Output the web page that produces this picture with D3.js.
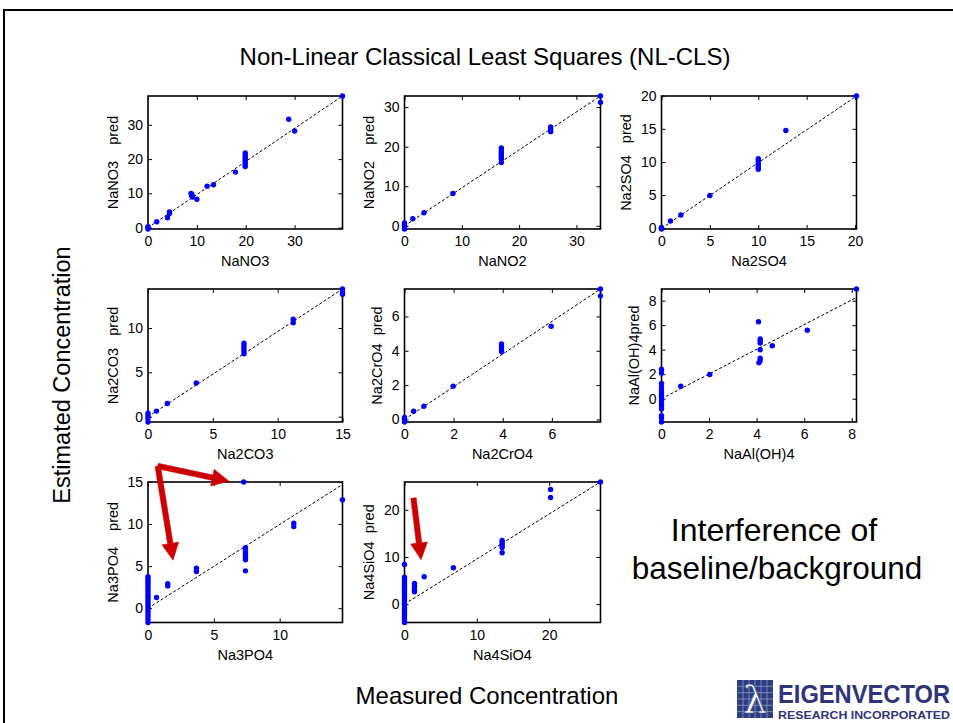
<!DOCTYPE html>
<html>
<head>
<meta charset="utf-8">
<script src="https://cdn.jsdelivr.net/npm/d3@7"></script>
<style>
  body { margin: 0; background: #fff; }
  svg { display: block; font-family: "Liberation Sans", Arial, Helvetica, sans-serif; }
  .ylab { white-space: pre; }
</style>
</head>
<body>
<svg id="chart" width="953" height="723"></svg>
<script>
// ---- data: measured vs. predicted concentration for each analyte ----
const analytes = ["NaNO3", "NaNO2", "Na2SO4", "Na2CO3", "Na2CrO4", "NaAl(OH)4", "Na3PO4", "Na4SiO4"];
const predLabels = ["NaNO3    pred", "NaNO2    pred", "Na2SO4   pred", "Na2CO3   pred",
                    "Na2CrO4  pred", "NaAl(OH)4pred", "Na3PO4    pred", "Na4SiO4  pred"];

const measNaNO3 = [0, 0, 0, 1.8, 4.0, 4.4, 4.4, 8.8, 8.9, 9.0, 9.1, 10.0, 12.1, 13.4, 17.9,
                   19.9, 19.9, 19.9, 19.9, 19.9, 19.9, 19.9, 19.9, 28.8, 30.0, 39.8];
const predNaNO3 = [0.3, 0, -0.4, 1.7, 2.9, 4.1, 4.6, 10.0, 9.4, 9.7, 8.9, 8.3, 12.1, 12.5, 16.2,
                   21.8, 21.2, 20.6, 20.0, 19.5, 19.0, 18.3, 17.8, 31.6, 28.2, 38.4];

const measNaNO2 = [0, 0, 0, 0, 0, 1.45, 3.4, 8.45, 16.9, 16.9, 16.9, 16.9, 16.9, 16.9, 16.9, 16.9,
                   25.5, 25.5, 25.5, 34.2, 34.2];
const predNaNO2 = [0.7, 0.3, 0, -0.3, -0.8, 1.8, 3.3, 8.2, 19.7, 19.2, 18.7, 18.2, 17.8, 17.3, 16.9, 16.0,
                   25.0, 24.4, 23.8, 32.8, 31.2];

const measNa2SO4 = [0, 0, 0, 0.93, 2.0, 5.0, 10, 10, 10, 10, 10, 10, 12.85, 20.15];
const predNa2SO4 = [0.15, 0, -0.1, 1.1, 2.0, 4.95, 10.5, 10.2, 9.8, 9.5, 9.2, 8.9, 14.75, 19.95];

const measNa2CO3 = [0, 0, 0, 0, 0.65, 1.49, 3.72, 7.4, 7.4, 7.4, 7.4, 7.4, 11.2, 11.2, 15, 15, 15];
const predNa2CO3 = [0.4, 0.1, -0.2, -0.6, 0.63, 1.49, 3.8, 8.3, 8.0, 7.7, 7.4, 7.1, 11.0, 10.6, 14.4, 14.1, 13.8];

const measNa2CrO4 = [0, 0, 0, 0.37, 0.79, 1.98, 3.95, 3.95, 3.95, 3.95, 5.97, 7.98, 7.98];
const predNa2CrO4 = [0.12, 0, -0.15, 0.48, 0.77, 1.94, 4.4, 4.25, 4.1, 3.95, 5.43, 7.6, 7.2];

const measNaAlOH4 = [0, 0, 0, 0, 0, 0, 0, 0, 0, 0, 0, 0, 0, 0, 0, 0.81, 2.03,
                     4.08, 4.15, 4.15, 4.15, 4.15, 4.15, 4.15, 4.1, 4.66, 6.13, 8.2];
const predNaAlOH4 = [2.4, 2.1, 1.24, 0.96, 0.69, 0.46, 0.27, 0.08, -0.14, -0.36, -0.55, -0.83, -1.38, -1.57, -1.9,
                     1.02, 1.98, 6.28, 4.88, 4.7, 4.55, 3.99, 3.3, 3.12, 2.94, 4.32, 5.59, 8.95];

const measNa3PO4 = [0, 0, 0, 0, 0, 0, 0, 0, 0, 0, 0, 0, 0, 0, 0, 0, 0, 0, 0,
                    0.65, 1.5, 1.5, 3.68, 3.68, 7.4, 7.4, 7.4, 7.4, 7.4, 7.4, 7.4, 7.27, 11.07, 11.07, 14.77];
const predNa3PO4 = [3.75, 3.45, 3.2, 2.9, 2.6, 2.3, 2.0, 1.7, 1.4, 1.1, 0.8, 0.5, 0.2, -0.1, -0.4, -0.7, -1.0, -1.35, -1.7,
                    1.27, 2.9, 2.65, 4.76, 4.36, 7.2, 6.9, 6.6, 6.3, 6.0, 5.75, 4.44, 15.0, 10.1, 9.7, 12.9];

const measNa4SiO4 = [0, 0, 0, 0, 0, 0, 0, 0, 0, 0, 0, 0, 0, 0, 0, 0, 0, 0, 0, 0, 0,
                     1.38, 1.38, 1.38, 1.38, 1.38, 2.72, 6.76, 13.5, 13.5, 13.5, 13.5, 13.5, 20.2, 20.2, 27.1];
const predNa4SiO4 = [8.4, 5.7, 5.2, 4.7, 4.2, 3.7, 3.2, 2.7, 2.2, 1.7, 1.2, 0.7, 0.2, -0.3, -0.8, -1.3, -1.8, -2.3, -2.8, -3.3, -3.9,
                     4.4, 3.9, 3.4, 3.0, 2.6, 5.8, 7.7, 13.5, 13.0, 12.5, 12.0, 10.9, 24.3, 22.6, 25.9];

const xTickValues = [[0, 10, 20, 30], [0, 10, 20, 30], [0, 5, 10, 15, 20], [0, 5, 10, 15],
                     [0, 2, 4, 6], [0, 2, 4, 6, 8], [0, 5, 10], [0, 10, 20]];
const yTickValues = [[0, 10, 20, 30], [0, 10, 20, 30], [0, 5, 10, 15, 20], [0, 5, 10],
                     [0, 2, 4, 6], [0, 2, 4, 6, 8], [0, 5, 10, 15], [0, 10, 20]];

// end point of the dashed reference line that starts at the origin
const refLineEnd = [[39.8, 38.4], [34.2, 32.8], [20.15, 19.95], [15, 14.4],
                    [7.98, 7.6], [8.2, 8.26], [14.77, 14.7], [27.1, 25.9]];

// annotation arrows: panel index, tail [x, y], head [x, y] in that panel's data units
const arrowPanel = [6, 6, 7];
const arrowTail = [[0.74, 16.9], [0.74, 16.9], [1.24, 22.5]];
const arrowHead = [[6.15, 15.1], [1.9, 5.7], [2.3, 9.4]];

const measured = [measNaNO3, measNaNO2, measNa2SO4, measNa2CO3, measNa2CrO4, measNaAlOH4, measNa3PO4, measNa4SiO4];
const predicted = [predNaNO3, predNaNO2, predNa2SO4, predNa2CO3, predNa2CrO4, predNaAlOH4, predNa3PO4, predNa4SiO4];

// ---- layout ----
const svg = d3.select("#chart");
const colLeft = [148, 404.5, 661.5], colRight = [342.5, 600.5, 856.5];
const rowTop = [96, 289, 482], rowBottom = [229, 422, 622.5];
const tickFont = 14, labelFont = 14.5, tickLen = 4;
const dotColor = "#0000ff", arrowColor = "#cc0000";

// page frame
svg.append("line").attr("x1", 3).attr("x2", 953).attr("y1", 10).attr("y2", 10)
  .attr("stroke", "#000").attr("stroke-width", 2);
svg.append("line").attr("x1", 4).attr("x2", 4).attr("y1", 10).attr("y2", 723)
  .attr("stroke", "#000").attr("stroke-width", 2);

// headings
svg.append("text").attr("x", 485).attr("y", 65).attr("text-anchor", "middle")
  .attr("font-size", 24).text("Non-Linear Classical Least Squares (NL-CLS)");
svg.append("text").attr("transform", "translate(70,375) rotate(-90)").attr("text-anchor", "middle")
  .attr("font-size", 23.5).text("Estimated Concentration");
svg.append("text").attr("x", 487).attr("y", 704).attr("text-anchor", "middle")
  .attr("font-size", 24).text("Measured Concentration");
svg.append("text").attr("x", 774).attr("y", 541).attr("text-anchor", "middle")
  .attr("font-size", 32).text("Interference of");
svg.append("text").attr("x", 777).attr("y", 579).attr("text-anchor", "middle")
  .attr("font-size", 31.5).text("baseline/background");

const scales = [];

analytes.forEach((name, i) => {
  const col = i % 3, row = Math.floor(i / 3);
  const x0 = colLeft[col], x1 = colRight[col], y0 = rowTop[row], y1 = rowBottom[row];
  const x = d3.scaleLinear().domain([0, d3.max(measured[i])]).range([x0, x1]);
  const y = d3.scaleLinear().domain(d3.extent(predicted[i])).range([y1, y0]);
  scales.push({ x, y });

  const g = svg.append("g");

  const clipId = "clip" + i;
  svg.append("clipPath").attr("id", clipId).append("rect")
    .attr("x", x0).attr("y", y0).attr("width", x1 - x0).attr("height", y1 - y0);

  // inward ticks on all four sides
  g.append("g").attr("transform", `translate(0,${y1})`)
    .call(d3.axisBottom(x).tickValues(xTickValues[i]).tickSizeInner(-tickLen).tickSizeOuter(0).tickPadding(7.5));
  const left = g.append("g").attr("transform", `translate(${x0},0)`)
    .call(d3.axisLeft(y).tickValues(yTickValues[i]).tickSizeInner(-tickLen).tickSizeOuter(0).tickPadding(5));
  g.append("g").attr("transform", `translate(0,${y0})`)
    .call(d3.axisTop(x).tickValues(xTickValues[i]).tickSizeInner(-tickLen).tickSizeOuter(0).tickFormat(""));
  g.append("g").attr("transform", `translate(${x1},0)`)
    .call(d3.axisRight(y).tickValues(yTickValues[i]).tickSizeInner(-tickLen).tickSizeOuter(0).tickFormat(""));
  g.selectAll(".domain").remove();
  g.selectAll(".tick line").attr("stroke", "#000").attr("stroke-width", 1);
  g.selectAll(".tick text").attr("font-size", tickFont).attr("fill", "#000")
    .attr("font-family", '"Liberation Sans", Arial, sans-serif');

  // dashed reference line
  g.append("line").attr("clip-path", `url(#${clipId})`)
    .attr("x1", x(0)).attr("y1", y(0))
    .attr("x2", x(refLineEnd[i][0])).attr("y2", y(refLineEnd[i][1]))
    .attr("stroke", "#000").attr("stroke-width", 1).attr("stroke-dasharray", "3,2");

  // axes box
  g.append("rect").attr("x", x0).attr("y", y0).attr("width", x1 - x0).attr("height", y1 - y0)
    .attr("fill", "none").attr("stroke", "#000").attr("stroke-width", 1.6);

  // samples
  g.append("g").selectAll("circle").data(measured[i].map((m, k) => [m, predicted[i][k]]))
    .join("circle")
    .attr("cx", d => x(d[0])).attr("cy", d => y(d[1])).attr("r", 2.7)
    .attr("fill", dotColor);

  // axis labels
  g.append("text").attr("x", (x0 + x1) / 2).attr("y", y1 + 37).attr("text-anchor", "middle")
    .attr("font-size", labelFont).text(name);
  let maxW = 0;
  left.selectAll(".tick text").each(function () { maxW = Math.max(maxW, this.getComputedTextLength()); });
  const lx = x0 - 5 - maxW - 15;
  g.append("text").attr("class", "ylab")
    .attr("transform", `translate(${lx},${(y0 + y1) / 2}) rotate(-90)`)
    .attr("text-anchor", "middle").attr("dy", "0.35em")
    .attr("font-size", labelFont).text(predLabels[i]);
});

// annotation arrows
function arrowPath(p, q, shaft, headLen, headW) {
  const dx = q[0] - p[0], dy = q[1] - p[1];
  const L = Math.hypot(dx, dy), ux = dx / L, uy = dy / L, nx = -uy, ny = ux;
  const b = [q[0] - ux * headLen, q[1] - uy * headLen];
  const pts = [
    [p[0] + nx * shaft / 2, p[1] + ny * shaft / 2],
    [b[0] + nx * shaft / 2, b[1] + ny * shaft / 2],
    [b[0] + nx * headW / 2, b[1] + ny * headW / 2],
    q,
    [b[0] - nx * headW / 2, b[1] - ny * headW / 2],
    [b[0] - nx * shaft / 2, b[1] - ny * shaft / 2],
    [p[0] - nx * shaft / 2, p[1] - ny * shaft / 2]
  ];
  return "M" + pts.map(d => d.join(",")).join("L") + "Z";
}
arrowPanel.forEach((pi, k) => {
  const s = scales[pi];
  const tail = [s.x(arrowTail[k][0]), s.y(arrowTail[k][1])];
  const head = [s.x(arrowHead[k][0]), s.y(arrowHead[k][1])];
  svg.append("path").attr("d", arrowPath(tail, head, 5.5, 17, 17)).attr("fill", arrowColor)
    .attr("stroke", arrowColor).attr("stroke-width", 0.5).attr("stroke-linejoin", "round");
});

// company logo
const logo = svg.append("g");
logo.append("rect").attr("x", 737).attr("y", 680).attr("width", 36).attr("height", 38).attr("fill", "#2e3c82");
d3.range(1, 6).forEach(k => {
  logo.append("line").attr("x1", 737 + k * 6).attr("x2", 737 + k * 6).attr("y1", 680).attr("y2", 718)
    .attr("stroke", "#8e9ccc").attr("stroke-width", 0.8);
  logo.append("line").attr("x1", 737).attr("x2", 773).attr("y1", 680 + k * 6.33).attr("y2", 680 + k * 6.33)
    .attr("stroke", "#8e9ccc").attr("stroke-width", 0.8);
});
logo.append("text").attr("x", 755).attr("y", 713).attr("text-anchor", "middle")
  .attr("font-size", 38).attr("fill", "#fff").attr("stroke", "#2e3c82").attr("stroke-width", 0.6)
  .attr("font-family", '"DejaVu Serif", serif').text("λ");
logo.append("text").attr("transform", "translate(778,703) scale(1,1.1)").attr("font-size", 23)
  .attr("font-weight", "bold").attr("fill", "#2e3578")
  .attr("textLength", 172).attr("lengthAdjust", "spacingAndGlyphs").text("EIGENVECTOR");
logo.append("text").attr("x", 778).attr("y", 719).attr("font-size", 11.5).attr("font-weight", "bold")
  .attr("fill", "#2e3578").attr("textLength", 172).attr("lengthAdjust", "spacingAndGlyphs").text("RESEARCH INCORPORATED");
</script>
</body>
</html>
